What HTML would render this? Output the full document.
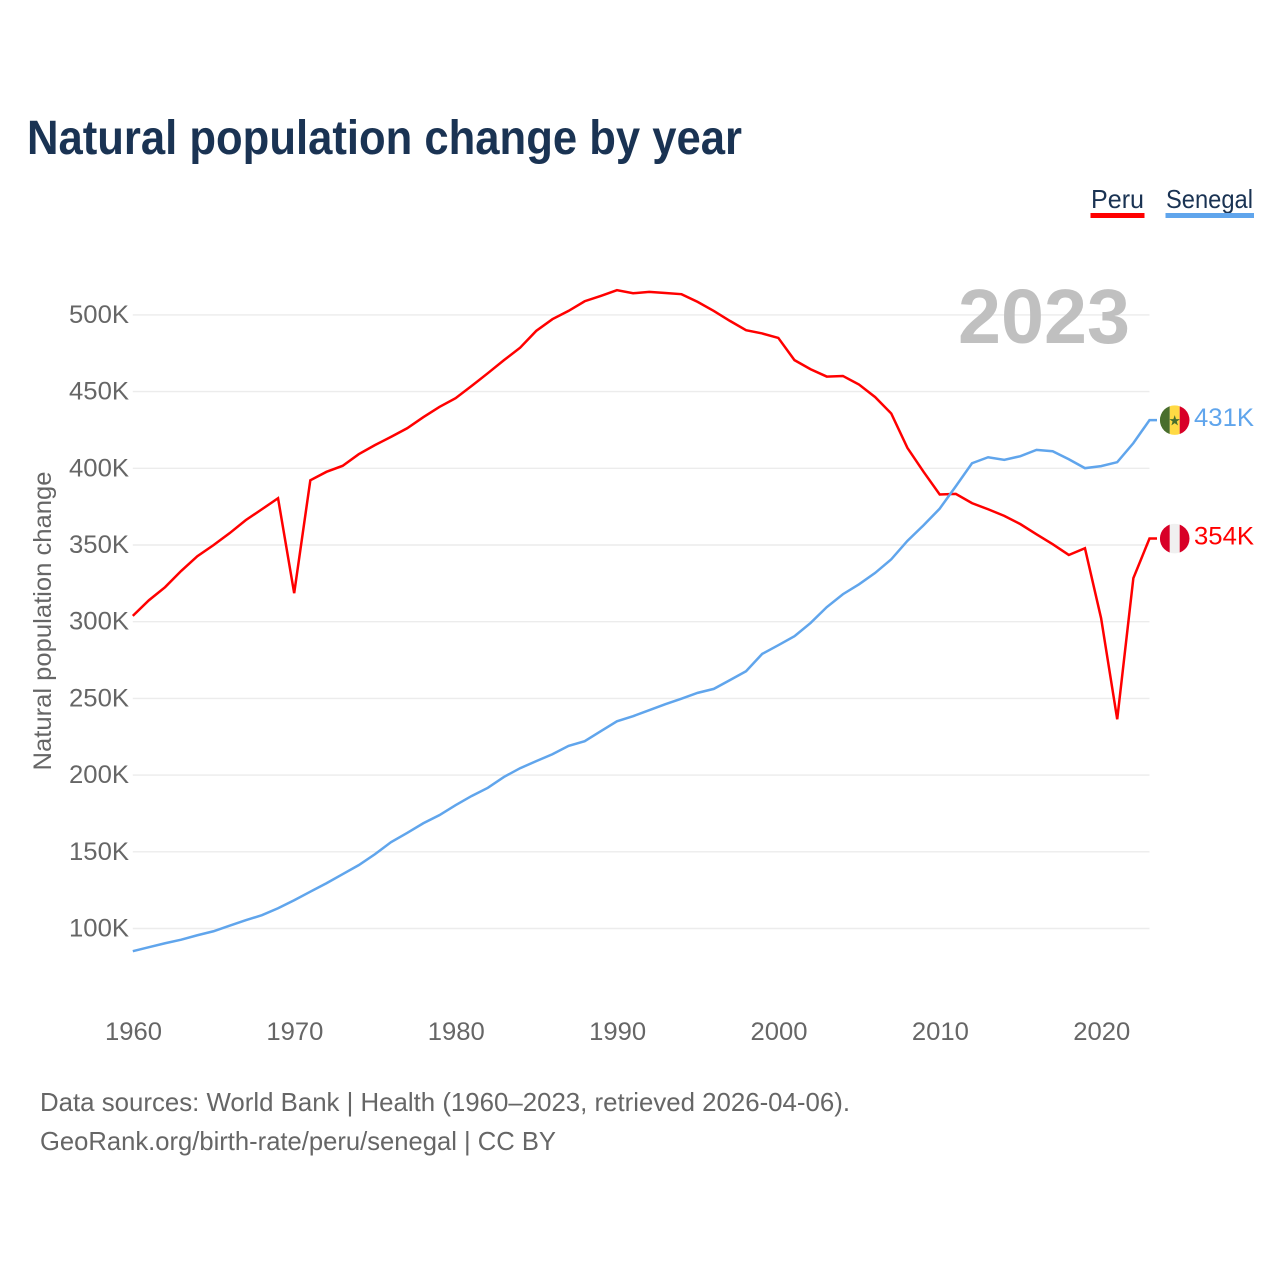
<!DOCTYPE html>
<html lang="en">
<head>
<meta charset="utf-8">
<title>Natural population change by year</title>
<style>
  html, body { margin: 0; padding: 0; background: #ffffff; }
  svg { display: block; font-family: "Liberation Sans", sans-serif; }
</style>
</head>
<body>
<svg id="chart" xmlns="http://www.w3.org/2000/svg" width="1280" height="1280" viewBox="0 0 1280 1280">
  <defs>
    <clipPath id="flag-clip-senegal"><circle cx="1174.7" cy="420" r="14.8"></circle></clipPath>
    <clipPath id="flag-clip-peru"><circle cx="1174.7" cy="538" r="14.8"></circle></clipPath>
  </defs>
  <rect x="0" y="0" width="1280" height="1280" fill="#ffffff"></rect>
  <text x="27" y="154" font-size="48" font-weight="700" fill="#1a3353" textLength="715" lengthAdjust="spacingAndGlyphs">Natural population change by year</text>

  <g>
    <text x="1091" y="208" font-size="26" fill="#1a3353" textLength="53" lengthAdjust="spacingAndGlyphs">Peru</text>
    <rect x="1090.5" y="213" width="54" height="5" fill="#ff0000"></rect>
  </g>
  <g>
    <text x="1166" y="208" font-size="26" fill="#1a3353" textLength="87" lengthAdjust="spacingAndGlyphs">Senegal</text>
    <rect x="1165.5" y="213" width="88.5" height="5" fill="#60a5ec"></rect>
  </g>

  <g id="grid"></g>
  <text x="958" y="343" font-size="77" font-weight="700" fill="#c0c0c0" textLength="172" lengthAdjust="spacingAndGlyphs">2023</text>
  <g id="y-ticks"></g>
  <g id="x-ticks"></g>
  <text transform="translate(51 621) rotate(-90)" text-anchor="middle" font-size="25" fill="#666666" textLength="299" lengthAdjust="spacingAndGlyphs">Natural population change</text>

  <g id="series"></g>

  <g id="flag-senegal" clip-path="url(#flag-clip-senegal)">
    <rect x="1159.9" y="405" width="9.9" height="30" fill="#496e2d"></rect>
    <rect x="1169.8" y="405" width="9.9" height="30" fill="#ffda44"></rect>
    <rect x="1179.7" y="405" width="9.9" height="30" fill="#d80027"></rect>
    <polygon fill="#496e2d" points="1174.7,415 1176,419 1180,419 1176.8,421.4 1178,425.3 1174.7,423 1171.4,425.3 1172.6,421.4 1169.4,419 1173.4,419"></polygon>
  </g>
  <g id="flag-peru" clip-path="url(#flag-clip-peru)">
    <rect x="1159.9" y="523" width="9.9" height="30" fill="#d80027"></rect>
    <rect x="1169.8" y="523" width="9.9" height="30" fill="#f0f0f0"></rect>
    <rect x="1179.7" y="523" width="9.9" height="30" fill="#d80027"></rect>
  </g>
  <g id="end-labels"></g>

  <text x="40" y="1111" font-size="26" fill="#666666" textLength="810" lengthAdjust="spacingAndGlyphs">Data sources: World Bank | Health (1960–2023, retrieved 2026-04-06).</text>
  <text x="40" y="1150" font-size="26" fill="#666666" textLength="516" lengthAdjust="spacingAndGlyphs">GeoRank.org/birth-rate/peru/senegal | CC BY</text>
</svg>
<script>
const years = [1960,1961,1962,1963,1964,1965,1966,1967,1968,1969,1970,1971,1972,1973,1974,1975,1976,1977,1978,1979,1980,1981,1982,1983,1984,1985,1986,1987,1988,1989,1990,1991,1992,1993,1994,1995,1996,1997,1998,1999,2000,2001,2002,2003,2004,2005,2006,2007,2008,2009,2010,2011,2012,2013,2014,2015,2016,2017,2018,2019,2020,2021,2022,2023];
const peruValues = [303.8,314.0,322.5,333.1,342.7,349.9,357.7,366.2,373.3,380.5,318.6,392.2,397.7,401.6,409.2,415.1,420.5,426.1,433.3,440.0,445.7,453.7,462.0,470.5,478.6,489.6,497.2,502.6,508.9,512.4,516.1,514.1,515.0,514.3,513.5,508.5,502.6,496.1,490.0,487.9,485.0,470.5,464.6,459.8,460.2,454.6,446.4,435.7,413.3,397.7,382.9,383.3,377.3,373.3,369.0,363.6,357.0,350.5,343.5,347.9,302.3,236.4,328.4,354.2];
const senegalValues = [85.2,87.8,90.4,92.7,95.6,98.2,101.8,105.4,108.7,113.2,118.4,124.0,129.5,135.4,141.3,148.4,156.3,162.3,168.6,173.9,180.4,186.4,191.7,198.8,204.5,209.1,213.6,219.0,222.1,228.6,235.1,238.4,242.3,246.2,249.8,253.6,256.2,261.9,267.7,279.0,284.7,290.5,299.2,309.5,317.9,324.4,331.8,340.7,352.7,362.9,373.7,388.3,403.3,407.2,405.5,407.9,412.0,411.1,405.9,400.1,401.4,404.0,416.4,431.4];
const yTickValues = [100,150,200,250,300,350,400,450,500];
const yTickLabels = ["100K","150K","200K","250K","300K","350K","400K","450K","500K"];
const xTickValues = [1960,1970,1980,1990,2000,2010,2020];
const xTickLabels = ["1960","1970","1980","1990","2000","2010","2020"];

const NS = "http://www.w3.org/2000/svg";
const xScale = function (year) { return 132.8 + (year - 1960) * (1149.5 - 132.8) / 63; };
const yScale = function (value) { return 928.5 - (value - 100) * 1.534; };
const make = function (tag, parentId) {
  const node = document.createElementNS(NS, tag);
  document.getElementById(parentId).appendChild(node);
  return node;
};

yTickValues.forEach(function (value, i) {
  const line = make("line", "grid");
  
  
  line.setAttribute("x1", xScale(1960));
  line.setAttribute("x2", xScale(2023));
  line.setAttribute("y1", yScale(value));
  line.setAttribute("y2", yScale(value));
  line.setAttribute("stroke", "#ececec");
  line.setAttribute("stroke-width", 1.4);

  const label = make("text", "y-ticks");
  
  
  label.setAttribute("x", 129);
  label.setAttribute("y", yScale(value) + 8);
  label.setAttribute("text-anchor", "end");
  label.setAttribute("font-size", 25);
  label.setAttribute("fill", "#666666");
  label.setAttribute("textLength", 60);
  label.setAttribute("lengthAdjust", "spacingAndGlyphs");
  label.textContent = yTickLabels[i];
});

xTickValues.forEach(function (value, i) {
  const label = make("text", "x-ticks");
  
  
  label.setAttribute("x", xScale(value) + 0.7);
  label.setAttribute("y", 1040);
  label.setAttribute("text-anchor", "middle");
  label.setAttribute("font-size", 25);
  label.setAttribute("fill", "#666666");
  label.setAttribute("textLength", 57);
  label.setAttribute("lengthAdjust", "spacingAndGlyphs");
  label.textContent = xTickLabels[i];
});

const linePoints = function (values) {
  const pts = values.map(function (value, i) {
    return xScale(years[i]).toFixed(2) + "," + yScale(value).toFixed(2);
  });
  pts.push("1157," + yScale(values[values.length - 1]).toFixed(2));
  return pts.join(" ");
};

const peruLine = make("polyline", "series");


peruLine.setAttribute("points", linePoints(peruValues));
peruLine.setAttribute("fill", "none");
peruLine.setAttribute("stroke", "#ff0000");
peruLine.setAttribute("stroke-width", 2.5);
peruLine.setAttribute("stroke-linejoin", "miter");

const senegalLine = make("polyline", "series");


senegalLine.setAttribute("points", linePoints(senegalValues));
senegalLine.setAttribute("fill", "none");
senegalLine.setAttribute("stroke", "#60a5ec");
senegalLine.setAttribute("stroke-width", 2.5);
senegalLine.setAttribute("stroke-linejoin", "miter");

const peruLast = yScale(peruValues[peruValues.length - 1]);
const senegalLast = yScale(senegalValues[senegalValues.length - 1]);

const peruLabel = make("text", "end-labels");


peruLabel.setAttribute("x", 1194);
peruLabel.setAttribute("y", peruLast + 6);
peruLabel.setAttribute("font-size", 25);
peruLabel.setAttribute("fill", "#ff0000");
peruLabel.setAttribute("textLength", 60);
peruLabel.setAttribute("lengthAdjust", "spacingAndGlyphs");
peruLabel.textContent = Math.round(peruValues[peruValues.length - 1]) + "K";

const senegalLabel = make("text", "end-labels");


senegalLabel.setAttribute("x", 1194);
senegalLabel.setAttribute("y", senegalLast + 6);
senegalLabel.setAttribute("font-size", 25);
senegalLabel.setAttribute("fill", "#60a5ec");
senegalLabel.setAttribute("textLength", 60);
senegalLabel.setAttribute("lengthAdjust", "spacingAndGlyphs");
senegalLabel.textContent = Math.round(senegalValues[senegalValues.length - 1]) + "K";

document.getElementById("flag-senegal").setAttribute("transform", "translate(0 " + (senegalLast - 420) + ")");
document.getElementById("flag-peru").setAttribute("transform", "translate(0 " + (peruLast - 538) + ")");
</script>
</body>
</html>
